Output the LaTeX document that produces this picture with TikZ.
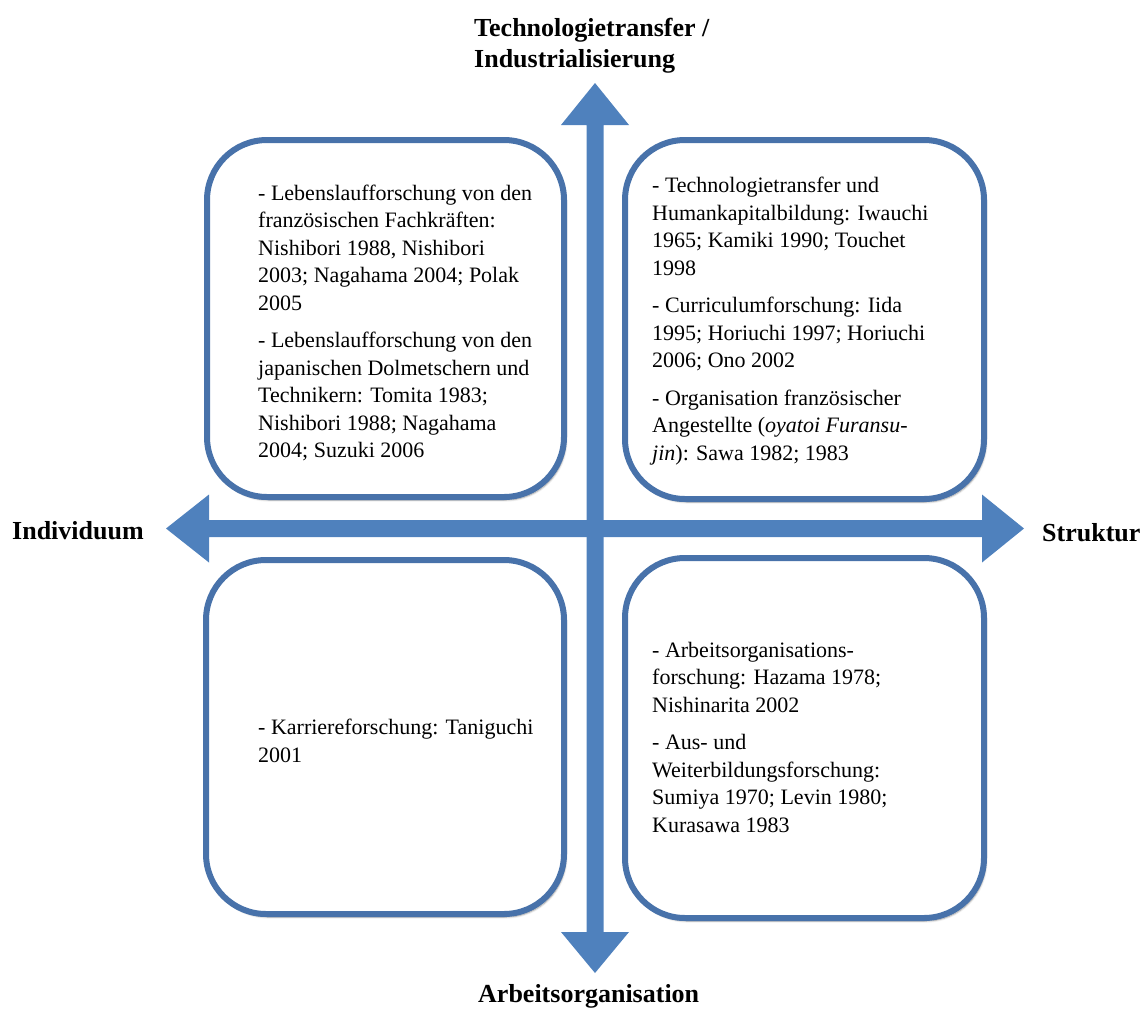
\documentclass[tikz,border=0pt]{standalone}
\usepackage{fontspec}
\setmainfont{Liberation Serif}
\usetikzlibrary{shadows.blur}
\definecolor{axisblue}{RGB}{79,129,189}
\definecolor{frameblue}{RGB}{72,114,170}
\tikzset{
	field/.style={draw=frameblue, line width=6pt, fill=white, rounded corners=60pt,
		blur shadow={shadow xshift=2pt, shadow yshift=-3pt, shadow blur steps=6, shadow opacity=40}},
	entry/.style={anchor=west, align=left, inner sep=0pt, font=\fontsize{22}{27.5}\selectfont},
	axislabel/.style={anchor=west, align=left, inner sep=0pt, font=\fontsize{26}{31}\selectfont\bfseries}
}

\begin{document}
\begin{tikzpicture}[x=1pt, y=-1pt]
	\useasboundingbox (0,0) rectangle (1144,1010);
	% axes
	\fill[axisblue] (595,83) -- (629,125) -- (603.5,125) -- (603.5,932) -- (629,932) -- (595,973)
		-- (561,932) -- (586.5,932) -- (586.5,125) -- (561,125) -- cycle;
	\fill[axisblue] (166,528.5) -- (209,494.5) -- (209,520) -- (982,520) -- (982,494.5) -- (1024,528.5)
		-- (982,562.5) -- (982,537) -- (209,537) -- (209,562.5) -- cycle;
	% quadrants
	\draw[field] (207,140) rectangle (564,497);
	\draw[field] (625,140) rectangle (984,499);
	\draw[field] (206,560) rectangle (564,914);
	\draw[field] (625,558) rectangle (984,918);
	% entries
	\node[entry] (indtech) at (258,323) {- Lebenslaufforschung von den\\
		französischen Fachkräften:\\
		Nishibori 1988, Nishibori\\
		2003; Nagahama 2004; Polak\\
		2005\\[10pt]
		- Lebenslaufforschung von den\\
		japanischen Dolmetschern und\\
		Technikern: Tomita 1983;\\
		Nishibori 1988; Nagahama\\
		2004; Suzuki 2006};
	\node[entry] (strtech) at (652,321) {- Technologietransfer und\\
		Humankapitalbildung: Iwauchi\\
		1965; Kamiki 1990; Touchet\\
		1998\\[10pt]
		- Curriculumforschung: Iida\\
		1995; Horiuchi 1997; Horiuchi\\
		2006; Ono 2002\\[10pt]
		- Organisation französischer\\
		Angestellte (\textit{oyatoi Furansu-}\\
		\textit{jin}): Sawa 1982; 1983};
	\node[entry] (indarb) at (258,741) {- Karriereforschung: Taniguchi\\
		2001};
	\node[entry] (strarb) at (652,737) {- Arbeitsorganisations-\\
		forschung: Hazama 1978;\\
		Nishinarita 2002\\[10pt]
		- Aus- und\\
		Weiterbildungsforschung:\\
		Sumiya 1970; Levin 1980;\\
		Kurasawa 1983};
	% axis labels
	\node[axislabel] (top) at (474,46) {Technologietransfer /\\Industrialisierung};
	\node[axislabel] (bottom) at (478,996) {Arbeitsorganisation};
	\node[axislabel] (left) at (12,531) {Individuum};
	\node[axislabel] (right) at (1042,533) {Struktur};
\end{tikzpicture}
\end{document}
